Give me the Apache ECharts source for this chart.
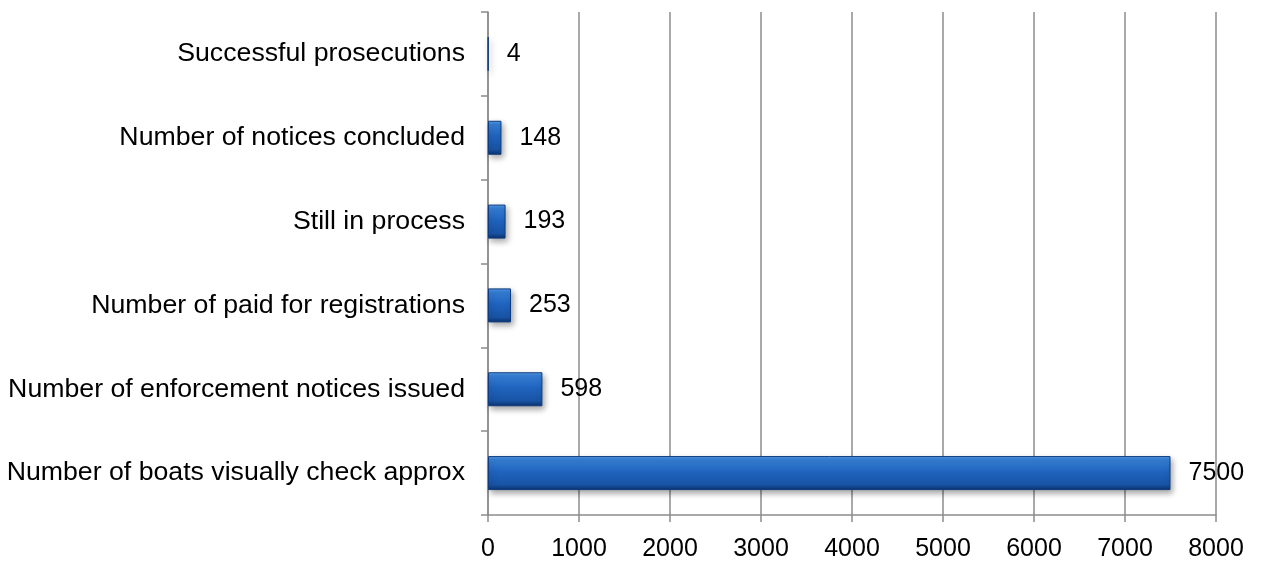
<!DOCTYPE html>
<html>
<head>
<meta charset="utf-8">
<script src="https://cdn.jsdelivr.net/npm/echarts@6/dist/echarts.min.js"></script>
<style>
  html, body { margin: 0; padding: 0; background: #fff; }
  #chart { width: 1261px; height: 561px; }
</style>
</head>
<body>
<div id="chart"></div>
<script>
// Categories listed bottom to top (category axis starts at the bottom)
const categories = [
  'Number of boats visually check approx',
  'Number of enforcement notices issued',
  'Number of paid for registrations',
  'Still in process',
  'Number of notices concluded',
  'Successful prosecutions'
];
const values = [7500, 598, 253, 193, 148, 4];
const xTicks = [0, 1000, 2000, 3000, 4000, 5000, 6000, 7000, 8000];

const font = '"Liberation Sans", Arial, sans-serif';
const chart = echarts.init(document.getElementById('chart'), null, { renderer: 'canvas' });

chart.setOption({
  animation: false,
  grid: {
    left: 488, right: 45, top: 12, bottom: 46,
    containLabel: false,
    outerBoundsMode: 'none'
  },
  xAxis: {
    type: 'value',
    min: xTicks[0],
    max: xTicks[xTicks.length - 1],
    interval: 1000,
    axisLine: { show: true, lineStyle: { color: '#8c8c8c', width: 1.5 } },
    axisTick: { show: true, length: 7, lineStyle: { color: '#8c8c8c', width: 1.5 } },
    axisLabel: {
      color: '#000', fontSize: 25, fontFamily: font, margin: 22,
      formatter: v => String(v)
    },
    splitLine: { show: true, lineStyle: { color: '#8c8c8c', width: 1.5 } }
  },
  yAxis: {
    type: 'category',
    data: categories,
    axisLine: { show: true, lineStyle: { color: '#8c8c8c', width: 1.5 } },
    axisTick: { show: true, length: 7, alignWithLabel: false, lineStyle: { color: '#8c8c8c', width: 1.5 } },
    axisLabel: { color: '#000', fontSize: 26.7, fontFamily: font, margin: 23 }
  },
  series: [{
    type: 'bar',
    data: values,
    barWidth: 34,
    itemStyle: {
      color: new echarts.graphic.LinearGradient(0, 0, 0, 1, [
        { offset: 0, color: '#5c9eea' },
        { offset: 0.1, color: '#3680d6' },
        { offset: 0.45, color: '#2064bf' },
        { offset: 0.85, color: '#1853a4' },
        { offset: 1, color: '#0c3068' }
      ]),
      borderColor: '#0e3c80',
      borderWidth: 1,
      shadowColor: 'rgba(0,0,0,0.35)',
      shadowBlur: 6,
      shadowOffsetX: 2,
      shadowOffsetY: 3
    },
    label: {
      show: true,
      position: 'right',
      distance: 18,
      color: '#000',
      fontSize: 25,
      fontFamily: font
    }
  }]
});
</script>
</body>
</html>
